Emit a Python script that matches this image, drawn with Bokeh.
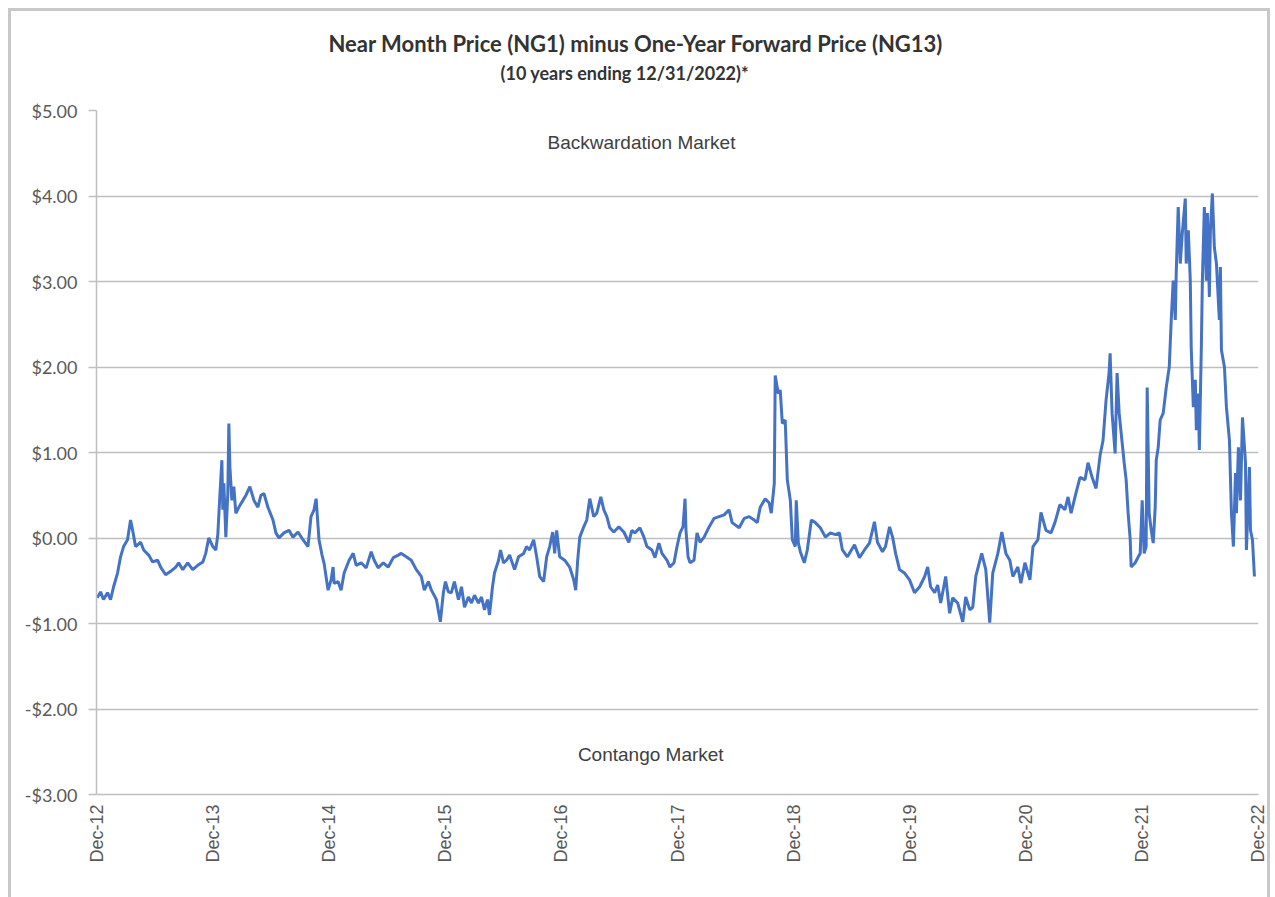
import math
from bokeh.plotting import figure
from bokeh.models import Range1d, Label, Title, FixedTicker, ColumnDataSource
from bokeh.embed import file_html
from bokeh.resources import INLINE

# x: years since 31 Dec 2012 ; y: NG1 - NG13 spread ($)
t_years = [
    0.006, 0.035, 0.060, 0.095, 0.121, 0.147, 0.181, 0.207, 0.233, 0.267, 0.293, 0.311, 0.336, 0.380,
    0.406, 0.449, 0.483, 0.526, 0.552, 0.595, 0.638, 0.682, 0.707, 0.742, 0.785, 0.828, 0.871, 0.915,
    0.940, 0.966, 1.001, 1.027, 1.044, 1.061, 1.079, 1.087, 1.096, 1.113, 1.130, 1.139, 1.148, 1.165,
    1.182, 1.199, 1.225, 1.260, 1.286, 1.320, 1.355, 1.389, 1.415, 1.441, 1.475, 1.519, 1.544, 1.570,
    1.613, 1.657, 1.691, 1.734, 1.777, 1.820, 1.846, 1.872, 1.890, 1.907, 1.915, 1.941, 1.959, 1.993,
    2.019, 2.036, 2.045, 2.079, 2.105, 2.131, 2.174, 2.209, 2.235, 2.278, 2.321, 2.364, 2.390, 2.424,
    2.468, 2.511, 2.554, 2.597, 2.623, 2.666, 2.709, 2.752, 2.795, 2.821, 2.856, 2.882, 2.925, 2.959,
    2.985, 3.003, 3.028, 3.054, 3.080, 3.115, 3.141, 3.167, 3.201, 3.227, 3.253, 3.287, 3.313, 3.339,
    3.365, 3.382, 3.408, 3.425, 3.460, 3.477, 3.503, 3.529, 3.555, 3.598, 3.632, 3.676, 3.701, 3.727,
    3.762, 3.788, 3.814, 3.848, 3.874, 3.900, 3.926, 3.943, 3.960, 3.986, 4.029, 4.072, 4.107, 4.124,
    4.141, 4.159, 4.193, 4.219, 4.245, 4.279, 4.305, 4.340, 4.366, 4.392, 4.417, 4.452, 4.495, 4.538,
    4.581, 4.607, 4.633, 4.676, 4.711, 4.737, 4.780, 4.806, 4.840, 4.866, 4.909, 4.935, 4.970, 4.996,
    5.022, 5.047, 5.065, 5.073, 5.091, 5.108, 5.142, 5.168, 5.194, 5.229, 5.272, 5.315, 5.358, 5.401,
    5.444, 5.470, 5.531, 5.574, 5.617, 5.660, 5.686, 5.712, 5.755, 5.789, 5.807, 5.833, 5.841, 5.867,
    5.884, 5.902, 5.927, 5.945, 5.971, 5.988, 6.014, 6.022, 6.040, 6.057, 6.091, 6.117, 6.152, 6.186,
    6.229, 6.273, 6.316, 6.359, 6.393, 6.419, 6.462, 6.488, 6.523, 6.566, 6.609, 6.652, 6.695, 6.721,
    6.764, 6.790, 6.825, 6.851, 6.877, 6.911, 6.954, 6.997, 7.040, 7.084, 7.127, 7.153, 7.178, 7.213,
    7.239, 7.265, 7.308, 7.342, 7.368, 7.411, 7.455, 7.480, 7.515, 7.541, 7.567, 7.618, 7.653, 7.687,
    7.713, 7.757, 7.791, 7.826, 7.860, 7.886, 7.929, 7.955, 7.990, 8.033, 8.059, 8.102, 8.128, 8.171,
    8.214, 8.248, 8.291, 8.334, 8.361, 8.387, 8.430, 8.464, 8.507, 8.533, 8.568, 8.602, 8.637, 8.662,
    8.688, 8.714, 8.723, 8.740, 8.766, 8.783, 8.801, 8.818, 8.844, 8.861, 8.878, 8.896, 8.904, 8.939,
    8.965, 8.982, 8.999, 9.016, 9.033, 9.042, 9.059, 9.077, 9.094, 9.111, 9.120, 9.137, 9.154, 9.180,
    9.206, 9.232, 9.249, 9.266, 9.284, 9.292, 9.309, 9.327, 9.344, 9.370, 9.378, 9.396, 9.413, 9.421,
    9.439, 9.456, 9.465, 9.482, 9.491, 9.508, 9.517, 9.534, 9.551, 9.560, 9.577, 9.586, 9.603, 9.620,
    9.638, 9.663, 9.672, 9.681, 9.707, 9.724, 9.750, 9.767, 9.784, 9.802, 9.810, 9.827, 9.845, 9.862,
    9.888, 9.896, 9.922, 9.931, 9.948, 9.965,
]
spread = [
    -0.70, -0.63, -0.72, -0.64, -0.72, -0.57, -0.41, -0.22, -0.10, -0.02, 0.21, 0.09, -0.10, -0.05,
    -0.14, -0.20, -0.28, -0.26, -0.34, -0.43, -0.39, -0.34, -0.29, -0.37, -0.29, -0.37, -0.32, -0.28,
    -0.18, 0.00, -0.10, -0.14, 0.04, 0.48, 0.91, 0.33, 0.64, 0.01, 0.52, 1.34, 0.83, 0.44,
    0.60, 0.29, 0.36, 0.44, 0.50, 0.60, 0.44, 0.36, 0.50, 0.52, 0.36, 0.21, 0.06, 0.00,
    0.06, 0.09, 0.01, 0.07, -0.02, -0.10, 0.25, 0.33, 0.46, 0.13, -0.02, -0.20, -0.30, -0.61,
    -0.49, -0.34, -0.53, -0.51, -0.61, -0.41, -0.26, -0.18, -0.32, -0.29, -0.35, -0.16, -0.26, -0.35,
    -0.29, -0.34, -0.23, -0.20, -0.18, -0.22, -0.26, -0.37, -0.45, -0.61, -0.51, -0.61, -0.72, -0.98,
    -0.64, -0.51, -0.63, -0.64, -0.51, -0.72, -0.57, -0.81, -0.69, -0.76, -0.67, -0.76, -0.69, -0.84,
    -0.72, -0.90, -0.57, -0.41, -0.26, -0.14, -0.29, -0.26, -0.20, -0.37, -0.22, -0.18, -0.10, -0.14,
    -0.02, -0.22, -0.45, -0.51, -0.22, -0.10, 0.07, -0.18, 0.09, -0.22, -0.26, -0.34, -0.49, -0.61,
    -0.26, 0.01, 0.13, 0.21, 0.46, 0.25, 0.29, 0.48, 0.33, 0.25, 0.12, 0.07, 0.13, 0.07,
    -0.05, 0.09, 0.06, 0.12, 0.01, -0.10, -0.14, -0.23, -0.06, -0.18, -0.26, -0.34, -0.29, -0.10,
    0.06, 0.13, 0.46, 0.09, -0.22, -0.29, -0.26, 0.06, -0.05, 0.01, 0.13, 0.23, 0.25, 0.27,
    0.33, 0.18, 0.12, 0.23, 0.25, 0.21, 0.18, 0.36, 0.46, 0.41, 0.29, 0.64, 1.90, 1.69,
    1.73, 1.34, 1.38, 0.68, 0.44, -0.02, -0.10, 0.44, -0.06, -0.16, -0.29, -0.14, 0.21, 0.18,
    0.12, 0.01, 0.06, 0.04, 0.06, -0.14, -0.22, -0.16, -0.08, -0.23, -0.14, -0.06, 0.19, -0.05,
    -0.16, -0.10, 0.13, 0.01, -0.18, -0.37, -0.41, -0.49, -0.64, -0.57, -0.45, -0.34, -0.57, -0.64,
    -0.55, -0.76, -0.45, -0.88, -0.70, -0.76, -0.98, -0.69, -0.84, -0.81, -0.45, -0.18, -0.37, -0.99,
    -0.41, -0.18, 0.07, -0.18, -0.26, -0.45, -0.34, -0.53, -0.29, -0.49, -0.10, -0.02, 0.30, 0.09,
    0.06, 0.18, 0.39, 0.33, 0.48, 0.29, 0.53, 0.71, 0.68, 0.88, 0.71, 0.58, 0.97, 1.14,
    1.61, 1.93, 2.16, 1.46, 0.99, 1.93, 1.46, 1.23, 0.88, 0.68, 0.29, -0.02, -0.34, -0.29,
    -0.22, -0.18, 0.44, -0.18, -0.10, 1.76, 0.29, 0.09, -0.06, 0.36, 0.91, 1.06, 1.38, 1.46,
    1.76, 2.00, 2.55, 3.01, 2.55, 3.10, 3.87, 3.21, 3.56, 3.97, 3.21, 3.60, 3.01, 2.23,
    1.53, 1.85, 1.26, 1.69, 1.03, 2.23, 3.01, 3.87, 3.01, 3.80, 2.82, 3.60, 4.03, 3.40,
    3.21, 2.55, 3.17, 2.20, 2.00, 1.53, 1.14, 0.29, -0.10, 0.76, 0.29, 1.06, 0.44, 1.41,
    0.88, -0.14, 0.83, 0.09, -0.02, -0.45,
]

tick_years = list(range(0, 11))
tick_labels = ["Dec-12", "Dec-13", "Dec-14", "Dec-15", "Dec-16", "Dec-17",
               "Dec-18", "Dec-19", "Dec-20", "Dec-21", "Dec-22"]
y_ticks = [-3, -2, -1, 0, 1, 2, 3, 4, 5]
y_labels = ["-$3.00", "-$2.00", "-$1.00", "$0.00", "$1.00", "$2.00", "$3.00", "$4.00", "$5.00"]

title_text = "Near Month Price (NG1) minus One-Year Forward Price (NG13)"
subtitle_text = "(10 years ending 12/31/2022)*"
upper_note = "Backwardation Market"
lower_note = "Contango Market"

src = ColumnDataSource(data=dict(t=t_years, v=spread))

p = figure(width=1262, height=889, output_backend="svg", toolbar_location=None,
           x_range=Range1d(0, 10), y_range=Range1d(-3, 5))
p.styles = {"border": "3px solid #c8c8c8", "border-bottom": "none", "margin": "8px 0 0 8px"}
p.min_border_left = 85
p.min_border_right = 15
p.min_border_top = 99
p.min_border_bottom = 106
p.outline_line_color = None
p.background_fill_color = "white"
p.border_fill_color = "white"

p.title.text = title_text
p.title.align = "left"
p.title.offset = 232
p.title.text_font = "Lato"
p.title.text_font_style = "bold"
p.title.text_font_size = "22px"
p.title.text_color = "#333333"
p.title.standoff = 4
# spacer between subtitle and plot area
p.add_layout(Title(text=" ", text_font_size="12px"), "above")
p.add_layout(Title(text=subtitle_text, align="left", offset=404, text_font="Lato",
                   text_font_style="bold", text_font_size="18px", text_color="#333333",
                   standoff=2), "above")

p.line("t", "v", source=src, line_color="#4472C4", line_width=3)

p.xaxis.ticker = FixedTicker(ticks=tick_years)
p.xaxis.major_label_overrides = {k: l for k, l in zip(tick_years, tick_labels)}
p.xaxis.major_label_orientation = math.pi / 2
p.xaxis.major_label_text_font = "Liberation Sans"
p.xaxis.major_label_text_font_size = "18px"
p.xaxis.major_label_text_color = "#595959"
p.xaxis.axis_line_color = "#bfbfbf"
p.xaxis.axis_line_width = 1.5
p.xaxis.major_tick_line_color = None
p.xaxis.minor_tick_line_color = None
p.xaxis.major_label_standoff = 4

p.yaxis.ticker = FixedTicker(ticks=y_ticks)
p.yaxis.major_label_overrides = {k: l for k, l in zip(y_ticks, y_labels)}
p.yaxis.major_label_text_font = "Lato"
p.yaxis.major_label_text_font_size = "18px"
p.yaxis.major_label_text_color = "#595959"
p.yaxis.axis_line_color = "#bfbfbf"
p.yaxis.axis_line_width = 1.5
p.yaxis.major_tick_line_color = "#bfbfbf"
p.yaxis.major_tick_line_width = 1.5
p.yaxis.major_tick_out = 8
p.yaxis.major_tick_in = 0
p.yaxis.minor_tick_line_color = None
p.yaxis.major_label_standoff = 11

p.xgrid.grid_line_color = None
p.ygrid.ticker = FixedTicker(ticks=y_ticks)
p.ygrid.grid_line_color = "#bfbfbf"
p.ygrid.grid_line_width = 1.5

p.add_layout(Label(x=4.69, y=4.63, text=upper_note, text_align="center", text_baseline="middle",
                   text_font="Liberation Sans", text_font_size="19px", text_color="#404040"))
p.add_layout(Label(x=4.77, y=-2.53, text=lower_note, text_align="center", text_baseline="middle",
                   text_font="Liberation Sans", text_font_size="19px", text_color="#404040"))

open("out.html", "w").write(file_html(p, INLINE))
